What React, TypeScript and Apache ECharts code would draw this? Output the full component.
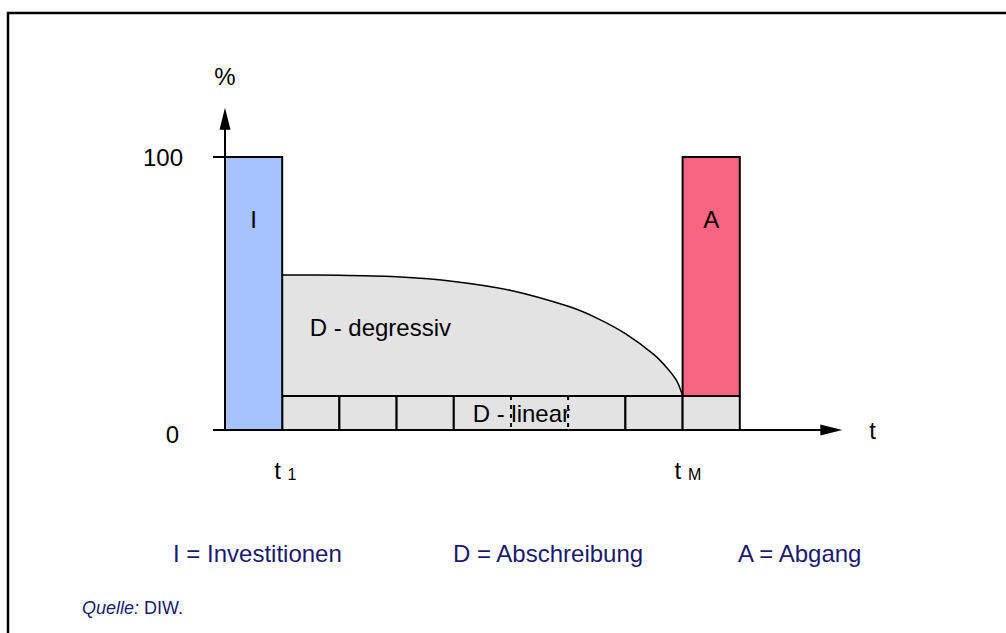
import React, { useEffect, useRef } from "react";
import * as echarts from "echarts";

const FONT = "'Liberation Sans', Arial, Helvetica, sans-serif";
const NAVY = "#1a1a6e";

// ---- axes ----
const yTickValues = [0, 100];
const yAxisName = "%";
const xAxisName = "t";
const xMax = 10.6;
const yMax = 114;

// ---- time markers below the time axis ----
const timeMarkX = [1, 8];
const timeMarkSub = ["1", "M"];

// ---- bars: [x0, x1, yBottom, yTop] ----
const investX = [0, 1];
const investY = [0, 100];
const abgangX = [8, 9];
const abgangY = [12.5, 100];

// ---- linear depreciation cells ----
const linearEdges = [1, 2, 3, 4, 5, 6, 7, 8, 9];
const linearLevel = 12.5;
const dashedEdges = [5, 6];

// ---- degressive depreciation curve ----
const degX = [1, 2, 3, 4, 5, 6, 6.5, 7, 7.5, 7.75, 7.9, 8];
const degY = [56.8, 56.7, 56.1, 54.4, 51.1, 45.3, 41.0, 35.3, 27.6, 22.2, 17.9, 12.5];

// ---- in-chart labels ----
const barLabels = ["I", "A"];
const barLabelX = [0.5, 8.5];
const barLabelY = 77;
const areaLabels = ["D - degressiv", "D - linear"];
const areaLabelX = [1.48, 4.33];
const areaLabelY = [37.7, 6.2];

// ---- legend / source ----
const legendTexts = ["I = Investitionen", "D = Abschreibung", "A = Abgang"];
const sourceLabel = "Quelle:";
const sourceText = "DIW.";

export default function App() {
  const ref = useRef<HTMLDivElement>(null);

  useEffect(() => {
    document.body.style.margin = "0";
    if (!ref.current) return;
    const chart = echarts.init(ref.current, undefined, { renderer: "svg" });

    const unitX = 57.2;
    const unitY = 2.73;
    const gridLeft = 225;
    const gridBottomY = 430;
    const gridWidth = xMax * unitX;
    const gridHeight = yMax * unitY;
    const gridTop = gridBottomY - gridHeight;

    const barData = [
      [investX[0], investX[1], investY[0], investY[1]],
      [abgangX[0], abgangX[1], abgangY[0], abgangY[1]],
    ];
    const barColors = ["#a6c3ff", "#f76580"];

    const cellData = linearEdges.slice(0, -1).map((x, i) => [x, linearEdges[i + 1], 0, linearLevel]);

    const curveData = degX.map((x, i) => [x, degY[i]]);

    const rectItem = (api: any) => {
      const x0 = api.value(0), x1 = api.value(1), y0 = api.value(2), y1 = api.value(3);
      const tl = api.coord([x0, y1]);
      const br = api.coord([x1, y0]);
      return { x0, x1, tl, br };
    };

    const option: any = {
      animation: false,
      grid: { left: gridLeft, top: gridTop, width: gridWidth, height: gridHeight },
      xAxis: {
        type: "value",
        min: 0,
        max: xMax,
        name: xAxisName,
        nameLocation: "end",
        nameGap: 38,
        nameTextStyle: { fontFamily: FONT, fontSize: 24, color: "#000", verticalAlign: "middle", padding: [8, 0, 0, 0] },
        axisLine: { show: true, symbol: ["none", "triangle"], symbolSize: [11, 22], lineStyle: { color: "#000", width: 2 } },
        axisTick: { show: false },
        axisLabel: { show: false },
        splitLine: { show: false },
      },
      yAxis: {
        type: "value",
        min: 0,
        max: yMax,
        name: yAxisName,
        nameLocation: "end",
        nameGap: 30,
        nameTextStyle: { fontFamily: FONT, fontSize: 24, color: "#000" },
        axisLine: { show: true, symbol: ["none", "triangle"], symbolSize: [11, 22], lineStyle: { color: "#000", width: 2 } },
        axisTick: { show: true, customValues: yTickValues, length: 12, inside: false, lineStyle: { color: "#000", width: 2 } },
        axisLabel: {
          show: true,
          customValues: yTickValues,
          margin: 42,
          fontFamily: FONT,
          fontSize: 24,
          color: "#000",
          align: "right",
          formatter: (v: number) => (v === 0 ? "{z|0}" : String(v)),
          rich: { z: { fontFamily: FONT, fontSize: 24, color: "#000", padding: [8, 4, 0, 0] } },
        },
        splitLine: { show: false },
      },
      series: [
        {
          type: "line",
          data: curveData,
          smooth: 0.35,
          symbol: "none",
          z: 2,
          lineStyle: { color: "#000", width: 1.5 },
          areaStyle: { color: "#e3e3e3", opacity: 1 },
          silent: true,
        },
        {
          type: "custom",
          z: 3,
          silent: true,
          data: cellData,
          encode: { x: [0, 1], y: [2, 3] },
          renderItem: (params: any, api: any) => {
            const { x0, x1, tl, br } = rectItem(api);
            const edge = (xv: number, px: number) => ({
              type: "line",
              shape: { x1: px, y1: tl[1], x2: px, y2: br[1] },
              style: dashedEdges.includes(xv)
                ? { stroke: "#000", lineWidth: 1.8, lineDash: [4, 5] }
                : { stroke: "#000", lineWidth: 2 },
            });
            return {
              type: "group",
              children: [
                { type: "rect", shape: { x: tl[0], y: tl[1], width: br[0] - tl[0], height: br[1] - tl[1] }, style: { fill: "#e3e3e3" } },
                { type: "line", shape: { x1: tl[0], y1: tl[1], x2: br[0], y2: tl[1] }, style: { stroke: "#000", lineWidth: 2 } },
                { type: "line", shape: { x1: tl[0], y1: br[1], x2: br[0], y2: br[1] }, style: { stroke: "#000", lineWidth: 2 } },
                edge(x0, tl[0]),
                edge(x1, br[0]),
              ],
            };
          },
        },
        {
          type: "custom",
          z: 4,
          silent: true,
          data: barData,
          encode: { x: [0, 1], y: [2, 3] },
          renderItem: (params: any, api: any) => {
            const { tl, br } = rectItem(api);
            return {
              type: "rect",
              shape: { x: tl[0], y: tl[1], width: br[0] - tl[0], height: br[1] - tl[1] },
              style: { fill: barColors[params.dataIndex], stroke: "#000", lineWidth: 2 },
            };
          },
        },
        {
          type: "custom",
          z: 5,
          silent: true,
          data: barLabelX.map((x) => [x, barLabelY]),
          encode: { x: 0, y: 1 },
          renderItem: (params: any, api: any) => {
            const p = api.coord([api.value(0), api.value(1)]);
            return {
              type: "text",
              x: p[0],
              y: p[1],
              style: { text: barLabels[params.dataIndex], fontFamily: FONT, fontSize: 24, fill: "#000", align: "center", verticalAlign: "middle" },
            };
          },
        },
        {
          type: "custom",
          z: 6,
          silent: true,
          data: areaLabelX.map((x, i) => [x, areaLabelY[i]]),
          encode: { x: 0, y: 1 },
          renderItem: (params: any, api: any) => {
            const p = api.coord([api.value(0), api.value(1)]);
            return {
              type: "text",
              x: p[0],
              y: p[1],
              style: { text: areaLabels[params.dataIndex], fontFamily: FONT, fontSize: 24, fill: "#000", align: "left", verticalAlign: "middle" },
            };
          },
        },
        {
          type: "custom",
          z: 5,
          silent: true,
          data: timeMarkX.map((x) => [x, 0]),
          encode: { x: 0, y: 1 },
          renderItem: (params: any, api: any) => {
            const p = api.coord([api.value(0), api.value(1)]);
            return {
              type: "text",
              x: p[0] - 8,
              y: p[1] + 40,
              style: {
                text: "{t|t} {s|" + timeMarkSub[params.dataIndex] + "}",
                fontFamily: FONT,
                fontSize: 24,
                fill: "#000",
                align: "left",
                verticalAlign: "middle",
                rich: {
                  t: { fontFamily: FONT, fontSize: 24, fill: "#000", lineHeight: 24 },
                  s: { fontFamily: FONT, fontSize: 16, fill: "#000", lineHeight: 14, verticalAlign: "bottom" },
                },
              },
            };
          },
        },
      ],
      graphic: [
        {
          type: "rect",
          shape: { x: 8, y: 13, width: 1010, height: 640 },
          style: { fill: "none", stroke: "#000", lineWidth: 2.5 },
          silent: true,
        },
        ...legendTexts.map((t, i) => ({
          type: "text",
          x: [173, 453, 738][i],
          y: 553,
          style: { text: t, fontFamily: FONT, fontSize: 24, fill: NAVY, align: "left", verticalAlign: "middle" },
          silent: true,
        })),
        {
          type: "text",
          x: 82,
          y: 608,
          style: {
            text: "{i|" + sourceLabel + "} " + sourceText,
            fontFamily: FONT,
            fontSize: 18,
            fill: NAVY,
            align: "left",
            verticalAlign: "middle",
            rich: { i: { fontFamily: FONT, fontSize: 18, fontStyle: "italic", fill: NAVY } },
          },
          silent: true,
        },
      ],
    };

    chart.setOption(option);
    return () => chart.dispose();
  }, []);

  return <div ref={ref} style={{ width: 1006, height: 633 }} />;
}
